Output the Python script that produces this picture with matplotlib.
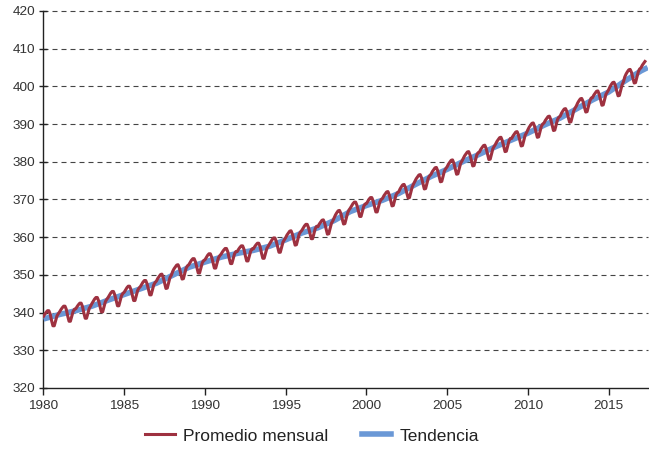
import numpy as np
import matplotlib
matplotlib.use("Agg")
import matplotlib.pyplot as plt
from matplotlib.lines import Line2D

plt.rcParams['font.family'] = ['Liberation Sans', 'DejaVu Sans']

# Monthly mean CO2 (ppm), Jan 1980 - Apr 2017
start_year = 1980
monthly_ppm = [
    339.0, 339.6, 340.1, 340.5, 340.5, 339.6, 337.9, 336.5, 336.5, 337.8, 339.1, 339.7,  # 1980
    340.2, 340.8, 341.3, 341.7, 341.7, 340.8, 339.1, 337.7, 337.7, 339.0, 340.3, 340.9,  # 1981
    341.0, 341.6, 342.1, 342.5, 342.5, 341.6, 339.9, 338.5, 338.5, 339.8, 341.1, 341.7,  # 1982
    342.4, 343.0, 343.6, 344.0, 344.0, 343.1, 341.6, 340.2, 340.2, 341.5, 342.9, 343.5,  # 1983
    344.0, 344.6, 345.2, 345.6, 345.6, 344.7, 343.2, 341.8, 341.8, 343.1, 344.5, 345.1,  # 1984
    345.4, 346.0, 346.6, 347.0, 347.0, 346.1, 344.6, 343.2, 343.2, 344.5, 345.9, 346.5,  # 1985
    346.9, 347.5, 348.1, 348.5, 348.5, 347.6, 346.1, 344.7, 344.7, 346.0, 347.4, 348.0,  # 1986
    348.4, 349.1, 349.6, 350.1, 350.2, 349.3, 347.8, 346.4, 346.5, 347.9, 349.3, 349.9,  # 1987
    350.9, 351.6, 352.1, 352.6, 352.7, 351.8, 350.3, 348.9, 349.0, 350.4, 351.8, 352.4,  # 1988
    352.7, 353.3, 353.9, 354.3, 354.3, 353.4, 351.9, 350.5, 350.5, 351.8, 353.2, 353.8,  # 1989
    354.0, 354.6, 355.2, 355.6, 355.6, 354.7, 353.2, 351.8, 351.8, 353.1, 354.5, 355.1,  # 1990
    355.5, 356.1, 356.6, 357.0, 357.0, 356.1, 354.4, 353.0, 353.0, 354.3, 355.6, 356.2,  # 1991
    356.2, 356.8, 357.3, 357.7, 357.7, 356.8, 355.1, 353.7, 353.7, 355.0, 356.3, 356.9,  # 1992
    356.9, 357.5, 358.0, 358.4, 358.4, 357.5, 355.8, 354.4, 354.4, 355.7, 357.0, 357.6,  # 1993
    358.2, 358.8, 359.4, 359.8, 359.8, 358.9, 357.4, 356.0, 356.0, 357.3, 358.7, 359.3,  # 1994
    359.9, 360.6, 361.1, 361.6, 361.7, 360.8, 359.3, 357.9, 358.0, 359.4, 360.8, 361.4,  # 1995
    361.8, 362.4, 363.0, 363.4, 363.4, 362.5, 361.0, 359.6, 359.6, 360.9, 362.3, 362.9,  # 1996
    362.8, 363.5, 364.0, 364.5, 364.6, 363.7, 362.2, 360.8, 360.9, 362.3, 363.7, 364.3,  # 1997
    365.1, 365.9, 366.5, 367.0, 367.1, 366.3, 364.8, 363.5, 363.6, 365.0, 366.4, 367.2,  # 1998
    367.7, 368.3, 368.9, 369.3, 369.3, 368.4, 366.9, 365.5, 365.5, 366.8, 368.2, 368.8,  # 1999
    368.9, 369.5, 370.1, 370.5, 370.5, 369.6, 368.1, 366.7, 366.7, 368.0, 369.4, 370.0,  # 2000
    370.3, 371.0, 371.5, 372.0, 372.1, 371.2, 369.7, 368.3, 368.4, 369.8, 371.2, 371.8,  # 2001
    372.0, 372.8, 373.4, 373.9, 374.0, 373.2, 371.7, 370.4, 370.5, 371.9, 373.3, 374.1,  # 2002
    374.8, 375.5, 376.0, 376.5, 376.6, 375.7, 374.2, 372.8, 372.9, 374.3, 375.7, 376.3,  # 2003
    376.7, 377.4, 377.9, 378.4, 378.5, 377.6, 376.1, 374.7, 374.8, 376.2, 377.6, 378.2,  # 2004
    378.7, 379.4, 379.9, 380.4, 380.5, 379.6, 378.1, 376.7, 376.8, 378.2, 379.6, 380.2,  # 2005
    380.9, 381.6, 382.1, 382.6, 382.7, 381.8, 380.3, 378.9, 379.0, 380.4, 381.8, 382.4,  # 2006
    382.6, 383.3, 383.8, 384.3, 384.4, 383.5, 382.0, 380.6, 380.7, 382.1, 383.5, 384.1,  # 2007
    384.7, 385.4, 385.9, 386.4, 386.5, 385.6, 384.1, 382.7, 382.8, 384.2, 385.6, 386.2,  # 2008
    386.2, 386.9, 387.4, 387.9, 388.0, 387.1, 385.6, 384.2, 384.3, 385.7, 387.1, 387.7,  # 2009
    388.5, 389.2, 389.7, 390.2, 390.3, 389.4, 387.9, 386.5, 386.6, 388.0, 389.4, 390.0,  # 2010
    390.3, 391.0, 391.5, 392.0, 392.1, 391.2, 389.7, 388.3, 388.4, 389.8, 391.2, 391.8,  # 2011
    392.1, 392.9, 393.5, 394.0, 394.1, 393.3, 391.8, 390.5, 390.6, 392.0, 393.4, 394.2,  # 2012
    394.8, 395.6, 396.2, 396.7, 396.8, 396.0, 394.5, 393.2, 393.3, 394.7, 396.1, 396.9,  # 2013
    397.0, 397.7, 398.2, 398.7, 398.8, 397.9, 396.4, 395.0, 395.1, 396.5, 397.9, 398.5,  # 2014
    399.1, 399.9, 400.5, 401.0, 401.1, 400.3, 398.8, 397.5, 397.6, 399.0, 400.4, 401.2,  # 2015
    402.5, 403.3, 403.9, 404.4, 404.5, 403.7, 402.2, 400.9, 401.0, 402.4, 403.8, 404.6,  # 2016
    404.9, 405.6, 406.1, 406.6,                                                          # 2017
]

# Trend (ppm) at the start of each year
trend_years = [1980, 1981, 1982, 1983, 1984, 1985, 1986, 1987, 1988, 1989,
               1990, 1991, 1992, 1993, 1994, 1995, 1996, 1997, 1998, 1999,
               2000, 2001, 2002, 2003, 2004, 2005, 2006, 2007, 2008, 2009,
               2010, 2011, 2012, 2013, 2014, 2015, 2016, 2017, 2017.42]
trend_ppm = [338.3, 339.5, 340.5, 341.7, 343.3, 344.8, 346.3, 347.8, 349.9, 352.0,
             353.4, 354.7, 355.7, 356.5, 357.6, 359.3, 361.1, 362.5, 364.4, 366.8,
             368.4, 369.8, 371.6, 373.9, 376.1, 378.0, 380.1, 382.0, 384.0, 385.8,
             387.6, 389.7, 391.6, 394.0, 396.4, 398.5, 401.4, 404.1, 405.0]

x_ticks = [1980, 1985, 1990, 1995, 2000, 2005, 2010, 2015]
y_ticks = [320, 330, 340, 350, 360, 370, 380, 390, 400, 410, 420]
series_labels = ["Promedio mensual", "Tendencia"]

red = "#9e3140"
blue = "#6a98d6"

months_x = start_year + np.arange(len(monthly_ppm)) / 12.0

fig = plt.figure(figsize=(6.49, 4.57), dpi=100)
ax = fig.add_axes([0.067, 0.151, 0.931, 0.825])

ax.plot(trend_years, trend_ppm, color=blue, lw=4.0, solid_capstyle='butt', zorder=3)
ax.plot(months_x, monthly_ppm, color=red, lw=2.2, zorder=4)

ax.set_xlim(1980, 2017.42)
ax.set_ylim(320, 420)
ax.set_xticks(x_ticks)
ax.set_yticks(y_ticks)

for v in y_ticks[1:]:
    ax.axhline(v, color="#444444", lw=0.8, ls=(0, (4.5, 3.6)), zorder=1, clip_on=False)

for s in ['top', 'right']:
    ax.spines[s].set_visible(False)
for s in ['left', 'bottom']:
    ax.spines[s].set_color("#222222")
    ax.spines[s].set_linewidth(1.0)

ax.tick_params(axis='y', direction='inout', length=6, width=1, color="#222222",
               labelsize=9.7, labelcolor="#333333", pad=3)
ax.tick_params(axis='x', direction='out', length=5, width=1, color="#222222",
               labelsize=9.7, labelcolor="#333333", pad=4)

handles = [Line2D([0], [0], color=red, lw=2.2),
           Line2D([0], [0], color=blue, lw=4.0)]
fig.legend(handles, series_labels, loc='center', bbox_to_anchor=(0.481, 0.046),
           ncol=2, frameon=False, fontsize=12.5, handlelength=1.7, handletextpad=0.5,
           columnspacing=1.9, labelcolor="#222222")

fig.savefig("out.png", dpi=100)
